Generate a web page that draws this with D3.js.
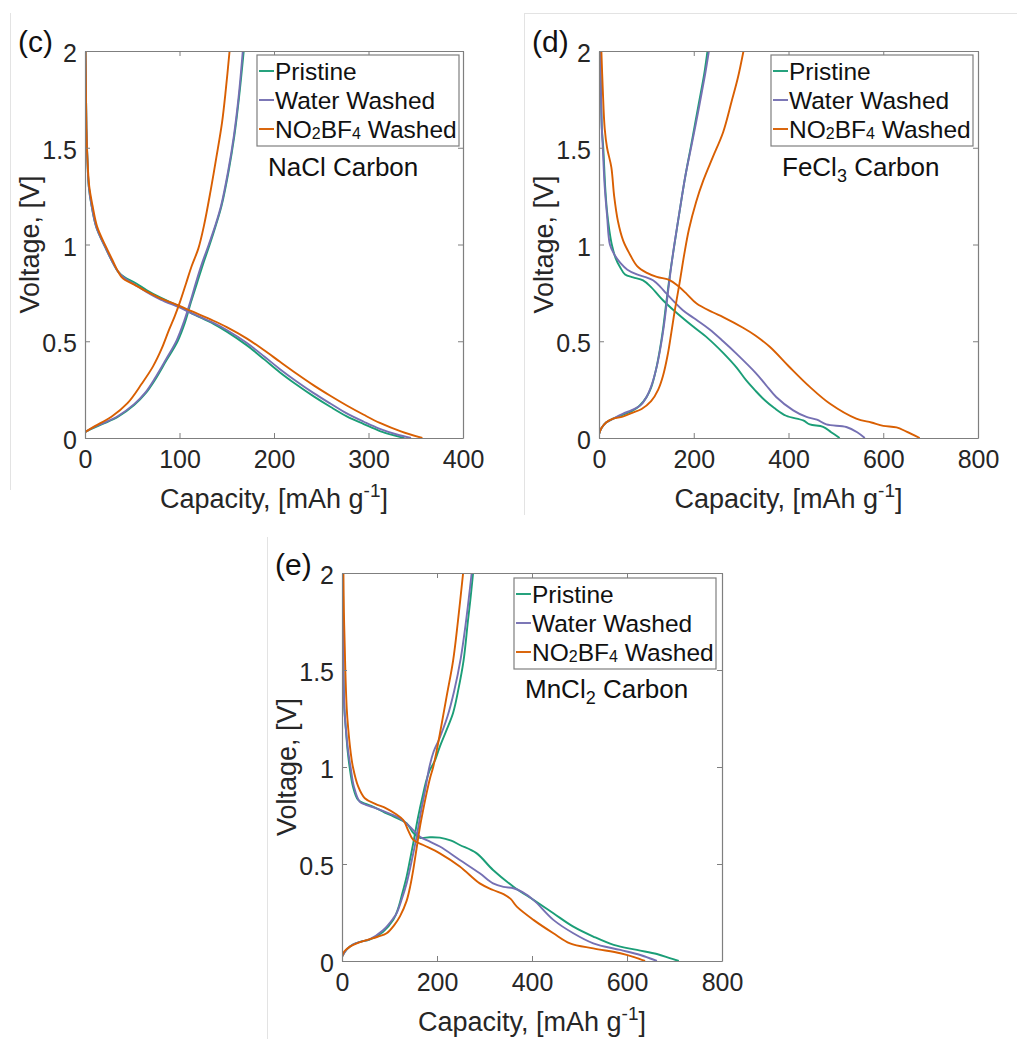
<!DOCTYPE html>
<html><head><meta charset="utf-8">
<script src="https://cdn.jsdelivr.net/npm/d3@7"></script>
<style>
body{margin:0;background:#fff;}
svg{display:block;font-family:"Liberation Sans",Arial,Helvetica,sans-serif;}
</style></head>
<body>
<svg id="chart" width="1017" height="1039"></svg>
<script>
const seriesNames = ["Pristine", "Water Washed", "NO2BF4 Washed"];
const seriesColors = ["#1b9e77", "#7570b3", "#d95f02"];
const yTicks = [0, 0.5, 1, 1.5, 2];
const xTicksC = [0, 100, 200, 300, 400];
const xTicksDE = [0, 200, 400, 600, 800];

// NaCl carbon (c)
const naclPristineDis = [[0.5,2.0],[1,1.8],[1.5,1.6],[2.5,1.45],[4,1.3],[7,1.2],[12,1.09],[21,0.99],[28,0.92],[35,0.86],[42,0.83],[52,0.805],[65,0.765],[80,0.725],[100,0.68],[112,0.647],[136,0.59],[150,0.55],[171,0.48],[190,0.405],[206,0.34],[224,0.275],[242,0.215],[260,0.16],[277,0.112],[295,0.072],[312,0.036],[325,0.016],[338,0.0]];
const naclWaterDis = [[0.5,2.0],[1,1.8],[1.5,1.6],[2.5,1.45],[4,1.3],[7,1.2],[12,1.09],[21,0.99],[28,0.92],[35,0.86],[42,0.825],[52,0.795],[65,0.755],[80,0.715],[100,0.675],[112,0.647],[136,0.595],[150,0.558],[171,0.492],[190,0.42],[206,0.357],[224,0.292],[242,0.232],[260,0.177],[277,0.127],[295,0.084],[312,0.047],[330,0.018],[345,0]];
const naclNO2Dis = [[0.5,2.0],[1,1.8],[1.5,1.6],[2.5,1.45],[4.5,1.3],[8,1.2],[13,1.09],[22,0.99],[29,0.92],[35,0.86],[40,0.825],[50,0.798],[65,0.758],[80,0.722],[100,0.683],[112,0.657],[136,0.606],[150,0.573],[171,0.515],[190,0.452],[206,0.395],[224,0.332],[242,0.272],[260,0.217],[277,0.168],[295,0.12],[312,0.078],[335,0.033],[357,0]];
const naclPristineChg = [[0,0.03],[8,0.05],[20,0.075],[35,0.11],[52,0.17],[64,0.23],[74,0.3],[86,0.4],[98,0.5],[106,0.6],[112,0.7],[118.5,0.8],[125,0.9],[132,1.0],[138.5,1.1],[144.5,1.2],[152,1.38],[158,1.56],[163,1.76],[168,2.0]];
const naclWaterChg = [[0,0.03],[8,0.052],[20,0.078],[35,0.114],[52,0.175],[64,0.236],[73.5,0.305],[85.5,0.405],[97,0.505],[105,0.605],[111.5,0.705],[117.5,0.805],[124,0.905],[131,1.0],[138,1.1],[144,1.2],[151.5,1.38],[157.5,1.56],[162.5,1.76],[167,2.0]];
const naclNO2Chg = [[0,0.03],[10,0.06],[28,0.11],[45,0.18],[60,0.28],[72,0.37],[81,0.46],[89,0.56],[95,0.63],[101,0.71],[107,0.8],[113,0.89],[120,0.98],[126,1.1],[133,1.28],[139,1.45],[145,1.63],[149,1.8],[153,2.0]];

// FeCl3 carbon (d)
const feclPristineDis = [[2,2.0],[4,1.8],[6,1.6],[9,1.5],[13,1.3],[17,1.17],[22,1.07],[27,1.0],[35,0.93],[44,0.885],[55,0.845],[72,0.83],[93,0.815],[110,0.78],[135,0.712],[160,0.655],[198,0.577],[230,0.515],[262,0.44],[290,0.365],[310,0.3],[330,0.245],[350,0.195],[370,0.155],[395,0.115],[431,0.091],[445,0.07],[473,0.058],[490,0.03],[508,0]];
const feclWaterDis = [[2,2.0],[4,1.8],[6,1.6],[8,1.5],[12,1.3],[17,1.15],[23,1.0],[32,0.95],[45,0.905],[60,0.87],[80,0.845],[100,0.83],[114,0.815],[130,0.78],[142,0.747],[177,0.66],[200,0.62],[233,0.562],[262,0.5],[290,0.436],[332,0.333],[352,0.275],[374,0.212],[410,0.143],[438,0.109],[460,0.095],[480,0.07],[522,0.057],[545,0.03],[561,0]];
const feclNO2Dis = [[5,2.0],[8,1.8],[12,1.6],[17,1.5],[26,1.4],[32,1.25],[40,1.12],[51,1.02],[65,0.95],[80,0.89],[100,0.855],[122,0.833],[150,0.815],[167,0.785],[185,0.745],[206,0.695],[240,0.65],[262,0.625],[304,0.57],[330,0.53],[361,0.47],[402,0.367],[445,0.264],[487,0.178],[543,0.1],[575,0.08],[600,0.063],[628,0.055],[649,0.033],[677,0]];
const feclPristineChg = [[0,0.02],[5,0.05],[15,0.08],[30,0.1],[50,0.12],[70,0.14],[85,0.165],[100,0.21],[110,0.26],[120,0.35],[128,0.45],[135,0.56],[142,0.7],[150,0.85],[158,0.98],[170,1.17],[182,1.35],[195,1.52],[210,1.72],[222,1.88],[229,2.0]];
const feclWaterChg = [[0,0.02],[5,0.05],[15,0.08],[30,0.1],[50,0.125],[70,0.145],[88,0.17],[102,0.22],[112,0.28],[122,0.37],[130,0.47],[137,0.58],[144,0.72],[151,0.86],[159,1.0],[170,1.17],[182,1.35],[196,1.52],[212,1.72],[224,1.88],[232,2.0]];
const feclNO2Chg = [[0,0.02],[5,0.05],[15,0.08],[30,0.1],[50,0.11],[70,0.13],[90,0.15],[110,0.19],[125,0.25],[135,0.32],[145,0.43],[153,0.55],[160,0.66],[170,0.8],[180,0.95],[190,1.08],[205,1.22],[220,1.33],[240,1.45],[262,1.58],[280,1.74],[293,1.86],[305,2.0]];

// MnCl2 carbon (e)
const mnclPristineDis = [[2,2.0],[2.5,1.8],[3,1.5],[5,1.3],[8,1.2],[12,1.08],[16,1.0],[23,0.9],[34,0.83],[50,0.81],[65,0.796],[90,0.765],[108,0.745],[136,0.71],[150,0.66],[164,0.635],[185,0.638],[206,0.636],[230,0.62],[248,0.598],[283,0.556],[318,0.469],[361,0.383],[403,0.315],[445,0.246],[487,0.177],[529,0.126],[572,0.083],[621,0.057],[663,0.036],[690,0.015],[709,0]];
const mnclWaterDis = [[1,2.0],[2,1.8],[3,1.5],[5,1.3],[8,1.2],[13,1.08],[18,1.0],[25,0.9],[37,0.822],[50,0.805],[72,0.787],[100,0.76],[122,0.735],[143,0.692],[164,0.641],[185,0.615],[206,0.59],[248,0.521],[290,0.452],[318,0.4],[340,0.382],[361,0.375],[380,0.355],[403,0.315],[445,0.212],[487,0.143],[529,0.091],[586,0.057],[628,0.031],[663,0]];
const mnclNO2Dis = [[3,2.0],[4,1.8],[6,1.6],[7,1.5],[10,1.3],[13,1.2],[18,1.08],[23,1.0],[34,0.9],[48,0.839],[70,0.81],[93,0.787],[115,0.755],[129,0.727],[139,0.675],[150,0.624],[171,0.598],[206,0.555],[248,0.487],[290,0.4],[318,0.366],[340,0.345],[355,0.32],[368,0.28],[403,0.212],[445,0.143],[480,0.091],[529,0.065],[586,0.04],[615,0.02],[638,0]];
const mnclPristineChg = [[0,0.022],[10,0.06],[23,0.085],[40,0.1],[58,0.11],[86,0.15],[108,0.212],[118,0.27],[126,0.34],[136,0.435],[143,0.52],[150,0.607],[160,0.74],[171,0.864],[178,0.934],[185,0.985],[195,1.03],[206,1.105],[220,1.19],[234,1.28],[245,1.4],[256,1.55],[265,1.75],[271,1.88],[276,2.0]];
const mnclWaterChg = [[0,0.022],[10,0.06],[23,0.085],[40,0.1],[58,0.112],[87,0.16],[108,0.22],[115,0.246],[126,0.32],[136,0.4],[147,0.52],[157,0.64],[167,0.78],[175,0.88],[184,1.0],[193,1.08],[204,1.14],[222,1.26],[236,1.39],[250,1.56],[260,1.73],[267,1.87],[273,2.0]];
const mnclNO2Chg = [[0,0.022],[5,0.05],[17,0.074],[35,0.095],[52,0.108],[75,0.125],[94,0.143],[110,0.185],[122,0.23],[136,0.31],[144,0.39],[150,0.47],[157,0.58],[164,0.69],[171,0.78],[178,0.864],[185,0.94],[192,1.0],[199,1.08],[206,1.17],[220,1.36],[234,1.55],[244,1.75],[255,2.0]];

const panelDefs = [
  {tag:"(c)", name:["NaCl Carbon", null], left:85, top:51, w:378, h:387, xMax:400, xTicks:xTicksC,
   dis:[naclPristineDis, naclWaterDis, naclNO2Dis], chg:[naclPristineChg, naclWaterChg, naclNO2Chg]},
  {tag:"(d)", name:["FeCl", "3", " Carbon"], left:599, top:51, w:379, h:387, xMax:800, xTicks:xTicksDE,
   dis:[feclPristineDis, feclWaterDis, feclNO2Dis], chg:[feclPristineChg, feclWaterChg, feclNO2Chg]},
  {tag:"(e)", name:["MnCl", "2", " Carbon"], left:342, top:573, w:380, h:388, xMax:800, xTicks:xTicksDE,
   dis:[mnclPristineDis, mnclWaterDis, mnclNO2Dis], chg:[mnclPristineChg, mnclWaterChg, mnclNO2Chg]}
];

const svg = d3.select("#chart");
const textColor = "#262626";
const axisColor = "#7f7f7f";

// faint sub-figure frame lines
const frame = svg.append("g").attr("stroke", "#e3e3e3").attr("stroke-width", 1);
frame.append("line").attr("x1", 10.5).attr("x2", 10.5).attr("y1", 13).attr("y2", 490);
frame.append("line").attr("x1", 524.5).attr("x2", 1017).attr("y1", 13.5).attr("y2", 13.5);
frame.append("line").attr("x1", 524.5).attr("x2", 524.5).attr("y1", 13).attr("y2", 515);
frame.append("line").attr("x1", 267.5).attr("x2", 267.5).attr("y1", 537).attr("y2", 1039);

panelDefs.forEach((p, pi) => {
  const g = svg.append("g").attr("transform", `translate(${p.left},${p.top})`);
  const x = d3.scaleLinear().domain([0, p.xMax]).range([0, p.w]);
  const y = d3.scaleLinear().domain([0, 2]).range([p.h, 0]);

  const clipId = "clip" + pi;
  g.append("clipPath").attr("id", clipId).append("rect").attr("width", p.w).attr("height", p.h);

  const line = d3.line().x(d => x(d[0])).y(d => y(d[1])).curve(d3.curveCatmullRom.alpha(0.5));
  const lines = g.append("g").attr("clip-path", `url(#${clipId})`);
  [0, 1, 2].forEach(i => {
    [p.dis[i], p.chg[i]].forEach(arr => {
      lines.append("path").datum(arr).attr("d", line)
        .attr("fill", "none").attr("stroke", seriesColors[i]).attr("stroke-width", 1.9)
        .attr("stroke-linejoin", "round");
    });
  });

  const fmt = d => String(d);
  const axB = d3.axisBottom(x).tickValues(p.xTicks).tickSize(-5).tickSizeOuter(0).tickPadding(12).tickFormat(fmt);
  const axT = d3.axisTop(x).tickValues(p.xTicks).tickSize(-5).tickSizeOuter(0).tickFormat("");
  const axL = d3.axisLeft(y).tickValues(yTicks).tickSize(-5).tickSizeOuter(0).tickPadding(8).tickFormat(fmt);
  const axR = d3.axisRight(y).tickValues(yTicks).tickSize(-5).tickSizeOuter(0).tickFormat("");

  const gB = g.append("g").attr("transform", `translate(0,${p.h})`).call(axB);
  const gT = g.append("g").call(axT);
  const gL = g.append("g").call(axL);
  const gR = g.append("g").attr("transform", `translate(${p.w},0)`).call(axR);
  [gB, gT, gL, gR].forEach(a => {
    a.select(".domain").attr("stroke", axisColor).attr("stroke-width", 1.2);
    a.selectAll(".tick line").attr("stroke", axisColor).attr("stroke-width", 1);
    a.selectAll(".tick text").attr("fill", textColor).style("font-size", "25px")
      .style("font-family", '"Liberation Sans", Arial, sans-serif');
  });
  gL.selectAll(".tick text").attr("dy", "0.42em");

  // axis labels
  const xl = g.append("text").attr("x", p.w / 2).attr("y", p.h + 70).attr("text-anchor", "middle")
    .attr("fill", textColor).style("font-size", "27px");
  xl.append("tspan").text("Capacity, [mAh g");
  xl.append("tspan").text("-1").style("font-size", "19px").attr("dy", -11);
  xl.append("tspan").text("]").attr("dy", 11);

  g.append("text").attr("transform", `translate(-46,${p.h / 2}) rotate(-90)`).attr("text-anchor", "middle")
    .attr("fill", textColor).style("font-size", "27px").text("Voltage, [V]");

  // panel tag
  g.append("text").attr("x", -67).attr("y", pi === 2 ? 2 : 1).attr("fill", "#111")
    .style("font-size", "30px").text(p.tag);

  // annotation
  const an = g.append("text").attr("x", 183).attr("y", 125).attr("fill", "#111").style("font-size", "26px");
  an.append("tspan").text(p.name[0]);
  if (p.name[1]) {
    an.append("tspan").text(p.name[1]).style("font-size", "18px").attr("dy", 6);
    an.append("tspan").text(p.name[2]).attr("dy", -6);
  }

  // legend
  const lg = g.append("g").attr("transform", `translate(172,${pi === 2 ? 5 : 4})`);
  lg.append("rect").attr("width", 202).attr("height", 91).attr("fill", "#fff")
    .attr("stroke", axisColor).attr("stroke-width", 1.2);
  seriesNames.forEach((s, i) => {
    const by = 25 + i * 29;
    lg.append("line").attr("x1", 2).attr("x2", 17).attr("y1", by - 9).attr("y2", by - 9)
      .attr("stroke", seriesColors[i]).attr("stroke-width", 1.9);
    const t = lg.append("text").attr("x", 18).attr("y", by).attr("fill", "#111").style("font-size", "24.5px");
    if (s.startsWith("NO2BF4")) {
      t.append("tspan").text("NO");
      t.append("tspan").text("2").style("font-size", "16px").attr("dy", 1);
      t.append("tspan").text("BF").attr("dy", -1);
      t.append("tspan").text("4").style("font-size", "16px").attr("dy", 1);
      t.append("tspan").text(" Washed").attr("dy", -1);
    } else {
      t.text(s);
    }
  });
});
</script>
</body></html>
